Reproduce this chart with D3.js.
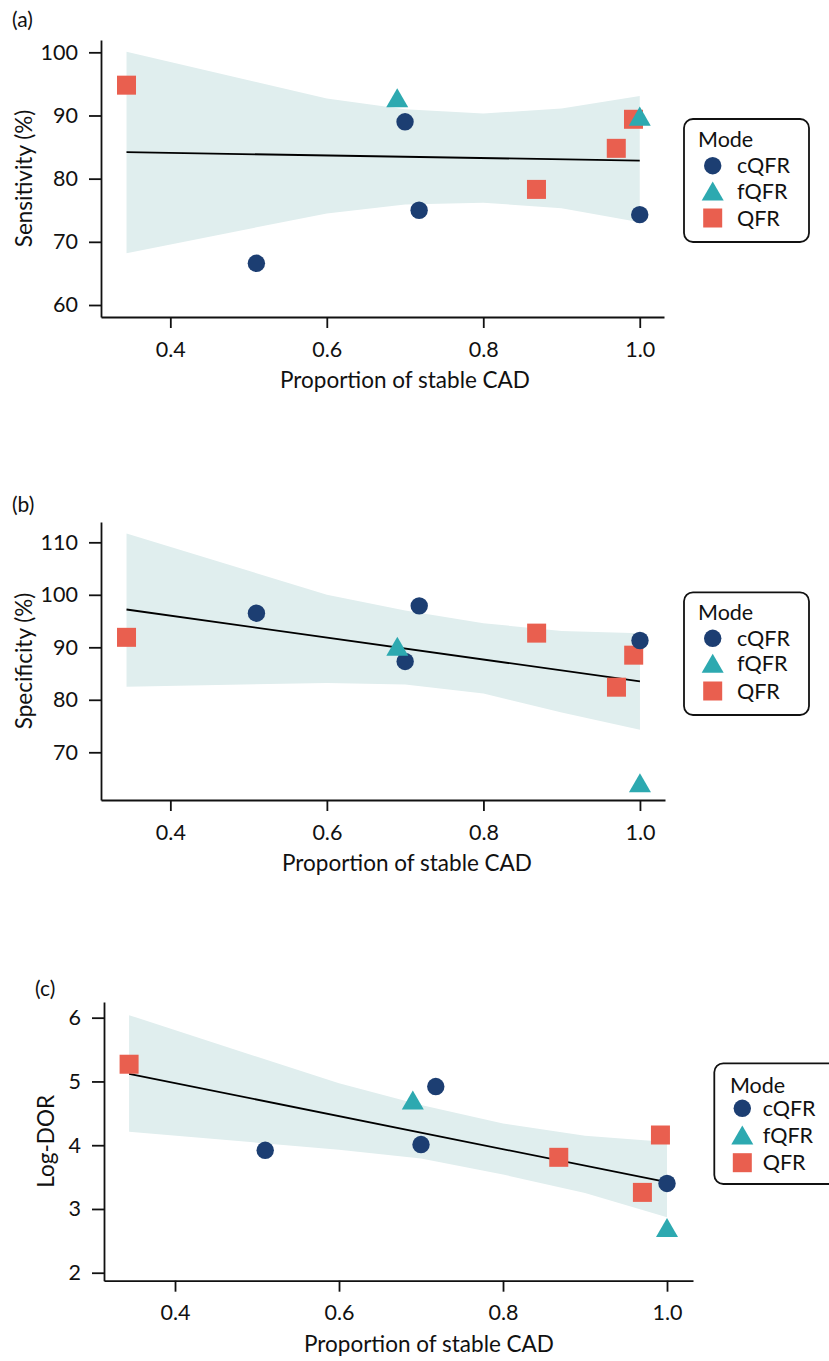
<!DOCTYPE html>
<html><head><meta charset="utf-8">
<script src="https://cdn.jsdelivr.net/npm/d3@7"></script>
<style>
body{margin:0;background:#fff}
svg{display:block}
text{font-family:Lato,"Open Sans",sans-serif;fill:#111}
</style>
</head><body>
<svg id="chart" width="829" height="1361"></svg>
<script>
// ---------------- DATA ----------------
const modes = ["cQFR", "fQFR", "QFR"];
const xTicks = [0.4, 0.6, 0.8, 1.0];
const sensTicks = [60, 70, 80, 90, 100];
const specTicks = [70, 80, 90, 100, 110];
const dorTicks = [2, 3, 4, 5, 6];

// one entry per study
const studyMode = ["QFR", "cQFR", "fQFR", "cQFR", "cQFR", "QFR", "QFR", "QFR", "cQFR", "fQFR"];
const stableCAD = [0.344, 0.510, 0.690, 0.700, 0.718, 0.868, 0.970, 0.992, 1.000, 1.000];
const sensitivity = [94.8, 66.6, 92.3, 89.0, 75.0, 78.3, 84.8, 89.4, 74.3, 89.4];
const specificity = [91.9, 96.5, 89.6, 87.3, 97.9, 92.7, 82.4, 88.5, 91.3, 63.6];
const logDOR = [5.27, 3.92, 4.66, 4.01, 4.92, 3.81, 3.26, 4.16, 3.40, 2.66];

// fitted meta-regression line (endpoints) and confidence band
const fitX = [0.344, 1.0];
const sensFit = [84.2, 82.85];
const specFit = [97.2, 83.5];
const dorFit = [5.12, 3.42];

const bandX = [0.344, 0.6, 0.7, 0.8, 0.9, 1.0];
const sensUpper = [100.1, 92.7, 91.0, 90.3, 91.1, 93.1];
const sensLower = [68.2, 74.5, 75.9, 76.2, 75.3, 73.1];
const specUpper = [111.7, 100.0, 97.0, 94.6, 93.1, 92.7];
const specLower = [82.5, 83.2, 82.9, 81.2, 77.6, 74.3];
const dorUpper = [6.04, 4.97, 4.63, 4.34, 4.15, 4.05];
const dorLower = [4.21, 3.93, 3.79, 3.54, 3.25, 2.87];

// ---------------- STYLE / LAYOUT ----------------
const colors = {cQFR: "#1c3e72", fQFR: "#2da9b0", QFR: "#e95f4f"};
const bandColor = "#e0eeee";
const FS_TICK = 21.5;
const FS_TITLE = 22.5;
const FS_LEG = 21.5;
const FS_TAG = 21;

const panels = [
  {tag: "(a)", tagX: 12, tagY: 27, yTitle: "Sensitivity (%)", titleX: 32,
   vals: sensitivity, fit: sensFit, upper: sensUpper, lower: sensLower, yTicks: sensTicks,
   left: 101, right: 664, top: 40, bottom: 317, xDom: [0.3114, 1.031], yDom: [58.1, 101.95],
   xTitleX: 405,
   legend: {x: 684, y: 119, w: 125, h: 123, modeX: 14, symX: 28.7, textX: 53, modeY: 28, rows: [46.7, 72, 99]}},
  {tag: "(b)", tagX: 12, tagY: 512, yTitle: "Specificity (%)", titleX: 32,
   vals: specificity, fit: specFit, upper: specUpper, lower: specLower, yTicks: specTicks,
   left: 101, right: 665, top: 522, bottom: 800, xDom: [0.3114, 1.032], yDom: [60.91, 113.87],
   xTitleX: 407,
   legend: {x: 684, y: 592.3, w: 125, h: 122.7, modeX: 14, symX: 28.7, textX: 53, modeY: 27.5, rows: [46, 71, 98.7]}},
  {tag: "(c)", tagX: 35, tagY: 996, yTitle: "Log-DOR", titleX: 54,
   vals: logDOR, fit: dorFit, upper: dorUpper, lower: dorLower, yTicks: dorTicks,
   left: 104, right: 693, top: 1002, bottom: 1280.7, xDom: [0.3134, 1.0317], yDom: [1.875, 6.246],
   xTitleX: 429,
   legend: {x: 714.3, y: 1063.3, w: 125, h: 120.7, modeX: 15.7, symX: 28, textX: 48.4, modeY: 29.4, rows: [45, 71.7, 99.4]}}
];

const svg = d3.select("#chart");

const triSize = 210;   // d3 symbol area for triangle
const circR = 8.7;
const sqSide = 19;
const triPath = d3.symbol().type(d3.symbolTriangle).size(triSize)();
// centroid-to-bbox-centre offset for d3 triangle
const triOffset = Math.sqrt(triSize / (3 * Math.sqrt(3))) / 2;

function drawMarker(g, mode, cx, cy) {
  if (mode === "cQFR") {
    g.append("circle").attr("cx", cx).attr("cy", cy).attr("r", circR).attr("fill", colors.cQFR);
  } else if (mode === "QFR") {
    g.append("rect").attr("x", cx - sqSide / 2).attr("y", cy - sqSide / 2)
      .attr("width", sqSide).attr("height", sqSide).attr("fill", colors.QFR);
  } else {
    g.append("path").attr("d", triPath).attr("transform", `translate(${cx},${cy})`).attr("fill", colors.fQFR);
  }
}

panels.forEach(p => {
  const x = d3.scaleLinear().domain(p.xDom).range([p.left, p.right]);
  const y = d3.scaleLinear().domain(p.yDom).range([p.bottom, p.top]);
  const g = svg.append("g");

  // band
  const area = d3.area().x((d, i) => x(bandX[i])).y0((d, i) => y(p.lower[i])).y1((d, i) => y(p.upper[i]));
  g.append("path").datum(bandX).attr("d", area).attr("fill", bandColor);

  // fit line
  const line = d3.line().x((d, i) => x(fitX[i])).y((d, i) => y(p.fit[i]));
  g.append("path").datum(fitX).attr("d", line).attr("fill", "none").attr("stroke", "#000").attr("stroke-width", 1.8);

  // points: squares, circles, then triangles
  const order = ["QFR", "cQFR", "fQFR"];
  const pg = g.append("g");
  order.forEach(m => {
    stableCAD.forEach((sx, i) => {
      if (studyMode[i] === m) drawMarker(pg, m, x(sx), y(p.vals[i]));
    });
  });

  // axes
  const xa = g.append("g").attr("transform", `translate(0,${p.bottom})`)
    .call(d3.axisBottom(x).tickValues(xTicks).tickFormat(d3.format(".1f")).tickSize(11).tickPadding(13.5).tickSizeOuter(0));
  const ya = g.append("g").attr("transform", `translate(${p.left},0)`)
    .call(d3.axisLeft(y).tickValues(p.yTicks).tickFormat(d3.format("d")).tickSize(12).tickPadding(11).tickSizeOuter(0));
  [xa, ya].forEach(a => {
    a.selectAll("path,line").attr("stroke", "#111").attr("stroke-width", 1.8);
    a.selectAll("text").attr("font-size", FS_TICK).attr("font-family", "Lato,'Open Sans',sans-serif").attr("fill", "#111");
  });

  // titles
  g.append("text").attr("x", p.xTitleX).attr("y", p.bottom + 71).attr("text-anchor", "middle")
    .attr("font-size", FS_TITLE).text("Proportion of stable CAD");
  g.append("text").attr("transform", `translate(${p.titleX},${(p.top + p.bottom) / 2}) rotate(-90)`)
    .attr("text-anchor", "middle").attr("font-size", FS_TITLE).text(p.yTitle);
  g.append("text").attr("x", p.tagX).attr("y", p.tagY).attr("font-size", FS_TAG).text(p.tag);

  // legend
  const L = p.legend;
  const lg = g.append("g").attr("transform", `translate(${L.x},${L.y})`);
  lg.append("rect").attr("x", 0).attr("y", 0).attr("width", L.w).attr("height", L.h)
    .attr("rx", 9).attr("fill", "#fff").attr("stroke", "#111").attr("stroke-width", 1.8);
  lg.append("text").attr("x", L.modeX).attr("y", L.modeY).attr("font-size", FS_LEG).text("Mode");
  modes.forEach((m, i) => {
    const cy = L.rows[i] + (m === "fQFR" ? triOffset : 0);
    drawMarker(lg, m, L.symX, cy);
    lg.append("text").attr("x", L.textX).attr("y", L.rows[i] + 7.6).attr("font-size", FS_LEG).text(m);
  });
});
</script>
</body></html>
